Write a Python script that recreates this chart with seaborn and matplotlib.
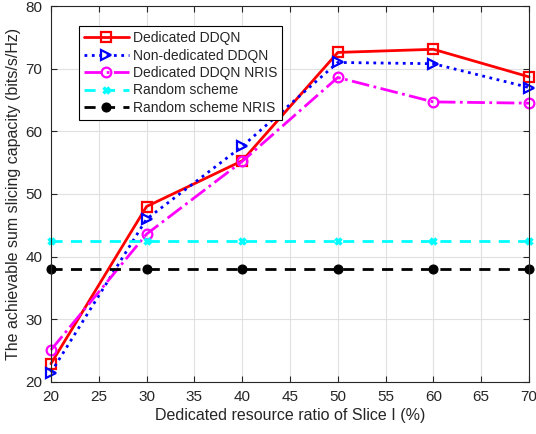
import pandas as pd
import seaborn as sns
import matplotlib.pyplot as plt

# dedicated resource ratio of slice I (%)
ratio = [20, 30, 40, 50, 60, 70]

dedicated_ddqn = [22.9, 48.0, 55.3, 72.6, 73.1, 68.7]
non_dedicated_ddqn = [21.5, 46.0, 57.6, 71.0, 70.8, 67.0]
dedicated_ddqn_nris = [25.1, 43.6, 55.2, 68.6, 64.7, 64.5]
random_scheme = [42.5, 42.5, 42.5, 42.5, 42.5, 42.5]
random_scheme_nris = [38.1, 38.1, 38.1, 38.1, 38.1, 38.1]

labels = ['Dedicated DDQN', 'Non-dedicated DDQN', 'Dedicated DDQN NRIS',
          'Random scheme', 'Random scheme NRIS']


def main():
    sns.set_style('whitegrid')
    plt.rcParams['font.family'] = ['Liberation Sans', 'DejaVu Sans']

    fig = plt.figure(figsize=(5.36, 4.34), dpi=100)
    ax = fig.add_axes([0.095, 0.12, 0.892, 0.866])

    series = [dedicated_ddqn, non_dedicated_ddqn, dedicated_ddqn_nris,
              random_scheme, random_scheme_nris]
    styles = [
        dict(color='red', linestyle='-', marker='s', markerfacecolor='none',
             markeredgecolor='red', markeredgewidth=1.6, markersize=7),
        dict(color='blue', linestyle=':', marker='>', markerfacecolor='none',
             markeredgecolor='blue', markeredgewidth=1.6, markersize=7),
        dict(color='magenta', linestyle='-.', marker='o', markerfacecolor='none',
             markeredgecolor='magenta', markeredgewidth=1.6, markersize=7),
        dict(color='cyan', linestyle=(0, (4, 3)), marker='x',
             markeredgecolor='cyan', markeredgewidth=2.5, markersize=5),
        dict(color='black', linestyle=(0, (4, 3)), marker='o',
             markerfacecolor='black', markeredgecolor='black', markersize=6.5),
    ]

    for vals, lab, st in zip(series, labels, styles):
        df = pd.DataFrame({'ratio': ratio, 'cap': vals})
        sns.lineplot(data=df, x='ratio', y='cap', ax=ax, label=lab,
                     linewidth=2, clip_on=False, **st)

    ax.set_xlim(20, 70)
    ax.set_ylim(20, 80)
    ax.set_xticks(range(20, 71, 5))
    ax.set_yticks(range(20, 81, 10))
    ax.grid(True, color='#e0e0e0', linewidth=0.8)
    for s in ax.spines.values():
        s.set_color('#262626')
        s.set_linewidth(0.8)
    ax.tick_params(direction='in', length=4, top=True, right=True, pad=6,
                   labelsize=11, labelcolor='#262626', color='#262626',
                   bottom=True, left=True)

    ax.set_xlabel('Dedicated resource ratio of Slice I (%)', fontsize=11.5,
                  color='#262626', labelpad=3)
    ax.set_ylabel('The achievable sum slicing capacity (bits/s/Hz)',
                  fontsize=11.5, color='#262626', labelpad=3)

    leg = ax.legend(loc='upper left', bbox_to_anchor=(0.045, 0.965),
                    fontsize=10, frameon=True, fancybox=False,
                    handlelength=3.2, borderpad=0.35, labelspacing=0.25,
                    handletextpad=0.3, framealpha=1)
    leg.get_frame().set_edgecolor('black')
    leg.get_frame().set_linewidth(0.8)

    plt.savefig('out.png', dpi=100)


if __name__ == '__main__':
    main()
